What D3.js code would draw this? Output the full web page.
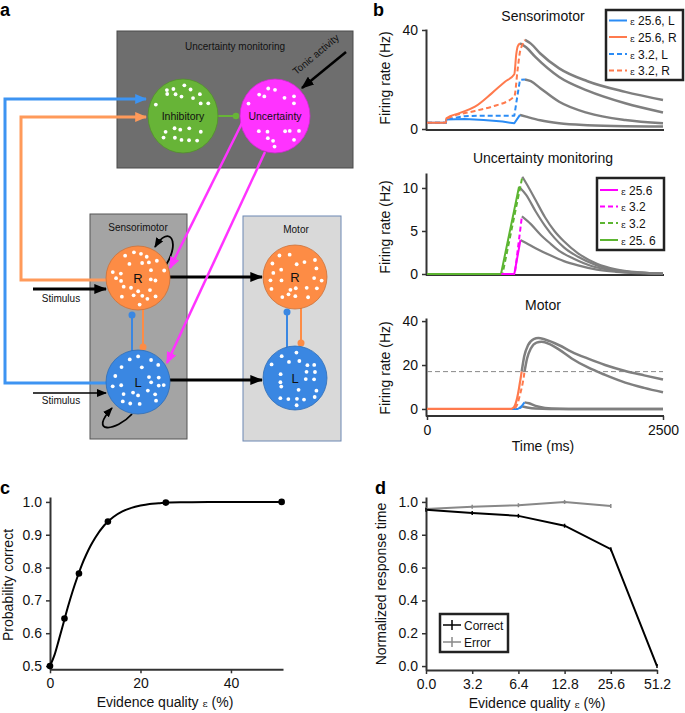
<!DOCTYPE html>
<html><head><meta charset="utf-8">
<script src="https://cdn.jsdelivr.net/npm/d3@7"></script>
<style>body{margin:0;background:#fff}svg{display:block;font-family:"Liberation Sans",Arial,sans-serif}</style>
</head><body><svg id="fig" width="685" height="713"></svg>
<script>
// ---------------- DATA ----------------
// panel b: time axis
const timeTicks = [0, 2500];
const smTicks = [0, 40];
const umTicks = [0, 5, 10];
const moTicks = [0, 20, 40];
const motorThreshold = 17;
// Sensorimotor firing rates [time ms, Hz]
const sm25L = [[0,2.5],[200,2.5],[205,3.8],[400,4.0],[600,3.6],[800,3.0],[925,2.3],[985,5.7]];
const sm25R = [[0,2.5],[200,2.5],[205,4.3],[350,6.5],[508,9.0],[685,14.4],[826,19.1],[925,22.1],[945,30],[960,33.3],[985,34.6]];
const sm32L = [[0,2.5],[200,2.5],[205,3.9],[400,5.2],[600,5.4],[925,5.4],[960,14],[985,19.8],[1038,20]];
const sm32R = [[0,2.5],[200,2.5],[205,4.0],[508,7.3],[685,9.0],[925,13.1],[960,24],[985,31.2],[1010,34],[1038,36]];
const smTail25L = [[985,5.7],[1050,5.0],[1200,3.5],[1400,2.3],[1700,1.5],[2100,1.1],[2500,1.0]];
const smTail25R = [[985,34.6],[1050,33],[1150,29],[1400,21],[1700,15.5],[2100,10.4],[2500,6.7]];
const smTail32L = [[1038,20],[1100,19.3],[1200,16.5],[1400,11],[1700,6.5],[2100,3.6],[2500,2.3]];
const smTail32R = [[1038,36],[1100,34.5],[1200,30.5],[1400,24.5],[1700,19.3],[2100,15],[2500,11.7]];
// Uncertainty monitoring
const um25M = [[790,0],[925,0],[990,3.95]];
const um32M = [[790,0],[930,0],[1005,6.7]];
const um32G = [[0,0],[800,0],[1010,11.3]];
const um25G = [[0,0],[784,0],[975,10.15]];
const umTail25M = [[990,3.95],[1050,3.6],[1150,3.0],[1300,2.2],[1450,1.5],[1600,1.0],[1800,0.5],[2000,0.25],[2250,0.1],[2500,0.03]];
const umTail32M = [[1005,6.7],[1100,5.8],[1200,4.6],[1300,3.6],[1400,2.7],[1550,1.8],[1750,0.9],[2000,0.4],[2250,0.15],[2500,0.05]];
const umTail32G = [[1010,11.3],[1080,10.0],[1150,8.6],[1250,6.6],[1350,5.0],[1450,3.8],[1600,2.4],[1800,1.2],[2000,0.55],[2250,0.2],[2500,0.06]];
const umTail25G = [[975,10.15],[1050,9.2],[1150,7.3],[1250,5.6],[1350,4.2],[1450,3.1],[1600,2.0],[1800,1.0],[2000,0.45],[2250,0.15],[2500,0.05]];
// Motor
const mo25R = [[0,0],[880,0],[910,0.4],[935,2],[955,5],[975,9.5],[990,13.5],[1003,17]];
const mo32R = [[0,0],[900,0],[935,0.5],[960,2.5],[985,6.5],[1010,11],[1025,14.5],[1033,17]];
const mo25L = [[900,0],[960,0],[1000,1.2],[1033,3]];
const mo32L = [[900,0],[940,0],[985,0.4],[1003,1.2]];
const moTail25R = [[1003,17],[1030,24],[1070,29],[1130,31.8],[1180,32.3],[1250,31.6],[1400,29],[1533,26],[1700,23],[1886,20],[2100,17.3],[2300,15.3],[2500,13.4]];
const moTail32R = [[1033,17],[1060,23],[1100,27.5],[1160,30.2],[1215,30.6],[1300,29.5],[1400,27],[1533,23],[1700,19],[1886,15.5],[2100,12],[2300,9.6],[2500,7.6]];
const moTail25L = [[1033,3],[1080,2.6],[1150,1.4],[1250,0.5],[1400,0.1],[1600,0],[2500,0]];
const moTail32L = [[1003,1.2],[1060,0.7],[1150,0.2],[1300,0],[2500,0]];

// panel c
const evidence = [0, 3.2, 6.4, 12.8, 25.6, 51.2];
const pCorrect = [0.5, 0.645, 0.782, 0.94, 0.998, 1.0];
const fitX = [0,1,2,3,4,5,6,7,8,9,10,12,14,16,18,20,22,24,26,30,35,51.2];
const fitY = [0.5,0.534,0.582,0.632,0.682,0.728,0.769,0.807,0.839,0.867,0.891,0.929,0.954,0.971,0.982,0.989,0.994,0.996,0.998,0.999,1.0,1.0];
const cXTicks = [0, 20, 40];
const cYTicks = [0.5, 0.6, 0.7, 0.8, 0.9, 1.0];

// panel d
const dCats = ["0.0", "3.2", "6.4", "12.8", "25.6", "51.2"];
const rtCorrect = [0.952, 0.933, 0.915, 0.855, 0.712, 0.0];
const rtError = [0.957, 0.970, 0.980, 1.0, 0.975];
const dYTicks = [0, 0.2, 0.4, 0.6, 0.8, 1.0];

// ---------------- STYLE ----------------
const C = {
  blue: "#2b8cf5", orange: "#ff7a4d", magenta: "#ff00ff", green: "#5cb531", gray: "#7f7f7f",
  aOrange: "#fd8c45", aBlue: "#3a87e2", aGreen: "#67b437", aMag: "#ff33ff",
  lineBlue: "#3d94f2", lineOrange: "#ff9a5a"
};
const svg = d3.select("#fig");
svg.append("rect").attr("width", 685).attr("height", 713).attr("fill", "#fff");
const defs = svg.append("defs");
function marker(id, color, w, h) {
  defs.append("marker").attr("id", id).attr("viewBox", "0 0 10 10").attr("refX", 9).attr("refY", 5)
    .attr("markerWidth", w).attr("markerHeight", h).attr("markerUnits", "userSpaceOnUse")
    .attr("preserveAspectRatio", "none").attr("orient", "auto")
    .append("path").attr("d", "M0,0L10,5L0,10z").attr("fill", color);
}
marker("arBlack", "#000", 13, 10);
marker("arBlackS", "#000", 10, 8);
marker("arBlue", C.lineBlue, 12, 10);
marker("arOrange", C.lineOrange, 12, 10);
marker("arMag", C.aMag, 12, 10);

function text(g, x, y, s, size, opts = {}) {
  return g.append("text").attr("x", x).attr("y", y).attr("font-size", size)
    .attr("text-anchor", opts.anchor || "middle").attr("fill", opts.fill || "#111")
    .attr("font-weight", opts.weight || null).text(s);
}

// ---------------- PANEL A ----------------
const A = svg.append("g");
text(A, 0, 16, "a", 18, { anchor: "start", weight: "bold", fill: "#000" });

// decorative white dots: jittered grid inside each neuron disc (not data)
function hash(a, b) { const s = Math.sin(a * 12.9898 + b * 78.233) * 43758.5453; return s - Math.floor(s); }
function dots(cx, cy, rx, ry, band) {
  const pts = [], step = 8.6;
  for (let gy = -ry; gy <= ry; gy += step) {
    for (let gx = -rx; gx <= rx; gx += step) {
      const dx = gx + (hash(gx + cx, gy + cy) - 0.5) * 5;
      const dy = gy + (hash(gy + cy, gx - cx) - 0.5) * 5;
      const nr = Math.hypot(dx / rx, dy / ry);
      if (nr > 0.86) continue;
      if (band && Math.abs(dy) < 0.3 * ry) continue;
      if (!band && Math.abs(dx) < 0.3 * rx && Math.abs(dy) < 0.3 * ry) continue;
      if (hash(dx * 3 + cx, dy * 7 + cy) < 0.12) continue;
      pts.push([cx + dx, cy + dy]);
    }
  }
  return pts;
}
function neuron(cx, cy, rx, ry, fill, label, size, band) {
  A.append("ellipse").attr("cx", cx).attr("cy", cy).attr("rx", rx).attr("ry", ry)
    .attr("fill", fill).attr("stroke", d3.color(fill).darker(0.6)).attr("stroke-width", 0.8);
  A.selectAll(null).data(dots(cx, cy, rx, ry, band)).join("circle")
    .attr("cx", d => d[0]).attr("cy", d => d[1]).attr("r", 1.9).attr("fill", "#fff");
  text(A, cx, cy + size * 0.36, label, size);
}

// boxes
A.append("rect").attr("x", 117).attr("y", 31).attr("width", 236).attr("height", 137)
  .attr("fill", "#6e6e6e").attr("stroke", "#4a4a4a").attr("stroke-width", 1);
text(A, 235, 50, "Uncertainty monitoring", 10);
A.append("rect").attr("x", 90).attr("y", 214).attr("width", 97).attr("height", 225)
  .attr("fill", "#a4a4a4").attr("stroke", "#555").attr("stroke-width", 1);
text(A, 138, 231, "Sensorimotor", 10);
A.append("rect").attr("x", 243).attr("y", 216).attr("width", 98).attr("height", 225)
  .attr("fill", "#d9d9d9").attr("stroke", "#6d88b3").attr("stroke-width", 1);
text(A, 296, 233, "Motor", 10);

// feedback lines from sensorimotor to inhibitory
A.append("path").attr("d", "M107,383 H5 V99 H146").attr("fill", "none")
  .attr("stroke", C.lineBlue).attr("stroke-width", 3).attr("marker-end", "url(#arBlue)");
A.append("path").attr("d", "M107,280 H21 V117 H146").attr("fill", "none")
  .attr("stroke", C.lineOrange).attr("stroke-width", 3).attr("marker-end", "url(#arOrange)");

// inhibitory -> uncertainty
A.append("line").attr("x1", 218).attr("y1", 116).attr("x2", 236).attr("y2", 116)
  .attr("stroke", C.aGreen).attr("stroke-width", 2);
A.append("circle").attr("cx", 236).attr("cy", 116).attr("r", 3.3).attr("fill", C.aGreen);

// tonic activity
A.append("line").attr("x1", 346).attr("y1", 52).attr("x2", 302).attr("y2", 88)
  .attr("stroke", "#000").attr("stroke-width", 2.5).attr("marker-end", "url(#arBlack)");
A.append("text").attr("transform", "translate(318,57) rotate(-40)").attr("text-anchor", "middle")
  .attr("font-size", 10).attr("fill", "#111").text("Tonic activity");

// stimulus arrows
A.append("line").attr("x1", 33).attr("y1", 289).attr("x2", 106).attr("y2", 289)
  .attr("stroke", "#000").attr("stroke-width", 3).attr("marker-end", "url(#arBlack)");
text(A, 61, 301.5, "Stimulus", 10);
A.append("line").attr("x1", 33).attr("y1", 393).attr("x2", 106).attr("y2", 393)
  .attr("stroke", "#000").attr("stroke-width", 1.5).attr("marker-end", "url(#arBlackS)");
text(A, 61, 403.5, "Stimulus", 10);

// sensorimotor -> motor
A.append("line").attr("x1", 170).attr("y1", 277).attr("x2", 262).attr("y2", 277)
  .attr("stroke", "#000").attr("stroke-width", 3).attr("marker-end", "url(#arBlack)");
A.append("line").attr("x1", 170).attr("y1", 380).attr("x2", 262).attr("y2", 380)
  .attr("stroke", "#000").attr("stroke-width", 3).attr("marker-end", "url(#arBlack)");

// mutual inhibition connectors
function connector(x, y1, y2, color) {
  A.append("line").attr("x1", x).attr("y1", y1).attr("x2", x).attr("y2", y2)
    .attr("stroke", color).attr("stroke-width", 2);
  A.append("circle").attr("cx", x).attr("cy", y2).attr("r", 3.5).attr("fill", color);
}
connector(132, 352, 315, C.aBlue);
connector(143, 305, 347, C.aOrange);
connector(287, 348, 312, C.aBlue);
connector(301, 305, 343, C.aOrange);

// self loops
A.append("path").attr("d", "M166,265 C181,241 169,224 155,247").attr("fill", "none")
  .attr("stroke", "#000").attr("stroke-width", 1.8).attr("marker-end", "url(#arBlackS)");
A.append("path").attr("d", "M132,414 C116,432 88,434 112,408").attr("fill", "none")
  .attr("stroke", "#000").attr("stroke-width", 1.8).attr("marker-end", "url(#arBlackS)");

// neurons
neuron(183, 116, 35, 37, C.aGreen, "Inhibitory", 10.5, true);
neuron(275, 116, 35, 37, C.aMag, "Uncertainty", 10.5, true);
neuron(138, 278, 32, 32, C.aOrange, "R", 13, false);
neuron(138, 382, 32, 32, C.aBlue, "L", 13, false);
neuron(295, 277, 32, 32, C.aOrange, "R", 13, false);
neuron(295, 378, 32, 32, C.aBlue, "L", 13, false);

// uncertainty -> sensorimotor
A.append("line").attr("x1", 242).attr("y1", 123).attr("x2", 170).attr("y2", 268)
  .attr("stroke", C.aMag).attr("stroke-width", 2.5).attr("marker-end", "url(#arMag)");
A.append("line").attr("x1", 265).attr("y1", 152).attr("x2", 167).attr("y2", 363)
  .attr("stroke", C.aMag).attr("stroke-width", 2.5).attr("marker-end", "url(#arMag)");

// ---------------- PANEL B ----------------
const B = svg.append("g");
text(B, 373, 16, "b", 18, { anchor: "start", weight: "bold", fill: "#000" });
const xT = d3.scaleLinear().domain([0, 2500]).range([427, 663]);

function styleAxis(g) {
  g.select(".domain").attr("stroke", "#333").attr("stroke-width", 2);
  g.selectAll(".tick line").attr("stroke", "#333").attr("stroke-width", 1.5);
  g.selectAll(".tick text").attr("font-size", 14).attr("fill", "#111")
    .attr("font-family", '"Liberation Sans",Arial,sans-serif');
}
function subplot(yScale, yTicks, title, titleY, labelY, xAxisY, showX) {
  const g = B.append("g");
  g.append("g").attr("transform", "translate(426,0)")
    .call(d3.axisLeft(yScale).tickValues(yTicks).tickSize(4).tickPadding(4).tickSizeOuter(0))
    .call(styleAxis);
  const xa = d3.axisBottom(xT).tickSizeOuter(0);
  if (showX) xa.tickValues(timeTicks).tickSize(4).tickPadding(5).tickFormat(d3.format("d"));
  else xa.tickValues([]);
  g.append("g").attr("transform", `translate(0,${xAxisY})`).call(xa).call(styleAxis)
    .select(".domain").attr("d", `M426,0H664`);
  text(g, 543, titleY, title, 14);
  g.append("text").attr("transform", `translate(390,${labelY}) rotate(-90)`)
    .attr("text-anchor", "middle").attr("font-size", 14).attr("fill", "#111").text("Firing rate (Hz)");
  return g;
}
function series(g, data, y, color, dashed, width, curve) {
  g.append("path").datum(data)
    .attr("d", d3.line().x(d => xT(d[0])).y(d => y(d[1])).curve(curve || d3.curveMonotoneX))
    .attr("fill", "none").attr("stroke", color).attr("stroke-width", width || 2)
    .attr("stroke-dasharray", dashed ? "5,3" : null).attr("stroke-linejoin", "round");
}
function legend(g, x, y, w, h, items, rowY) {
  g.append("rect").attr("x", x).attr("y", y).attr("width", w).attr("height", h)
    .attr("fill", "#fff").attr("stroke", "#222").attr("stroke-width", 2.5);
  items.forEach((it, i) => {
    const yy = rowY[i];
    g.append("line").attr("x1", x + 3).attr("x2", x + 21).attr("y1", yy).attr("y2", yy)
      .attr("stroke", it.color).attr("stroke-width", 2).attr("stroke-dasharray", it.dashed ? "5,3" : null);
    const t = g.append("text").attr("x", x + 24).attr("y", yy + 4.5).attr("font-size", 12).attr("fill", "#111");
    t.append("tspan").attr("font-size", 9).attr("font-family", '"DejaVu Serif",serif').text("ε");
    t.append("tspan").text(" " + it.label);
  });
}

// Sensorimotor
const ySM = d3.scaleLinear().domain([-0.4, 40.4]).range([130, 29]);
const gSM = subplot(ySM, smTicks, "Sensorimotor", 21, 78, 130, false);
[smTail25L, smTail25R, smTail32L, smTail32R].forEach(d => series(gSM, d, ySM, C.gray, false, 2.5));
series(gSM, sm25L, ySM, C.blue, false, 2, d3.curveLinear);
series(gSM, sm25R, ySM, C.orange, false, 2);
series(gSM, sm32L, ySM, C.blue, true, 2, d3.curveLinear);
series(gSM, sm32R, ySM, C.orange, true, 2);
legend(gSM, 606, 10, 77, 70, [
  { color: C.blue, dashed: false, label: "25.6, L" },
  { color: C.orange, dashed: false, label: "25.6, R" },
  { color: C.blue, dashed: true, label: "3.2, L" },
  { color: C.orange, dashed: true, label: "3.2, R" }], [20.5, 37, 54, 70.5]);

// Uncertainty monitoring
const yUM = d3.scaleLinear().domain([-0.116, 11.74]).range([275, 173]);
const gUM = subplot(yUM, umTicks, "Uncertainty monitoring", 163, 227, 275, false);
[umTail25M, umTail32M, umTail32G, umTail25G].forEach(d => series(gUM, d, yUM, C.gray, false, 2.2));
series(gUM, um32G, yUM, C.green, true, 2, d3.curveLinear);
series(gUM, um25G, yUM, C.green, false, 2, d3.curveLinear);
series(gUM, um25M, yUM, C.magenta, false, 2, d3.curveLinear);
series(gUM, um32M, yUM, C.magenta, true, 2, d3.curveLinear);
legend(gUM, 597, 178, 67, 72, [
  { color: C.magenta, dashed: false, label: "25.6" },
  { color: C.magenta, dashed: true, label: "3.2" },
  { color: C.green, dashed: true, label: "3.2" },
  { color: C.green, dashed: false, label: "25. 6" }], [190, 206.5, 223, 240]);

// Motor
const yMO = d3.scaleLinear().domain([-3.2, 41.4]).range([416, 318]);
const gMO = subplot(yMO, moTicks, "Motor", 310, 368, 416, true);
text(gMO, 543, 451, "Time (ms)", 14);
gMO.append("line").datum(motorThreshold)
  .attr("x1", xT(0)).attr("x2", xT(2500)).attr("y1", d => yMO(d)).attr("y2", d => yMO(d))
  .attr("stroke", "#888").attr("stroke-width", 1).attr("stroke-dasharray", "5,3");
[moTail25L, moTail32L, moTail32R, moTail25R].forEach(d => series(gMO, d, yMO, C.gray, false, 2.5));
series(gMO, mo25L, yMO, C.blue, false, 2);
series(gMO, mo32L, yMO, C.blue, true, 2);
series(gMO, mo25R, yMO, C.orange, false, 2.2);
series(gMO, mo32R, yMO, C.orange, true, 2);

// ---------------- PANEL C ----------------
const G3 = svg.append("g");
text(G3, 0, 494, "c", 18, { anchor: "start", weight: "bold", fill: "#000" });
const xc = d3.scaleLinear().domain([0, 51.5]).range([50, 283]);
const yc = d3.scaleLinear().domain([0.49, 1.015]).range([669.3, 497]);
G3.append("g").attr("transform", "translate(50,0)")
  .call(d3.axisLeft(yc).tickValues(cYTicks).tickFormat(d3.format(".1f")).tickSize(4).tickPadding(4).tickSizeOuter(0))
  .call(styleAxis);
G3.append("g").attr("transform", "translate(0,669.3)")
  .call(d3.axisBottom(xc).tickValues(cXTicks).tickSize(4).tickPadding(5).tickSizeOuter(0))
  .call(styleAxis);
G3.append("path").datum(fitX.map((x, i) => [x, fitY[i]]))
  .attr("d", d3.line().x(d => xc(d[0])).y(d => yc(d[1])).curve(d3.curveMonotoneX))
  .attr("fill", "none").attr("stroke", "#000").attr("stroke-width", 2);
G3.selectAll(null).data(evidence.map((x, i) => [x, pCorrect[i]])).join("circle")
  .attr("cx", d => xc(d[0])).attr("cy", d => yc(d[1])).attr("r", 3.3).attr("fill", "#000");
G3.append("text").attr("transform", "translate(13,585) rotate(-90)").attr("text-anchor", "middle")
  .attr("font-size", 14).attr("fill", "#111").text("Probability correct");
const cx1 = G3.append("text").attr("x", 165).attr("y", 707).attr("text-anchor", "middle").attr("font-size", 14).attr("fill", "#111");
cx1.append("tspan").text("Evidence quality ");
cx1.append("tspan").attr("font-size", 10).attr("font-family", '"DejaVu Serif",serif').text("ε");
cx1.append("tspan").text(" (%)");

// ---------------- PANEL D ----------------
const G4 = svg.append("g");
text(G4, 375, 494, "d", 18, { anchor: "start", weight: "bold", fill: "#000" });
const xd = d3.scalePoint().domain(dCats).range([426, 657]);
const yd = d3.scaleLinear().domain([-0.024, 1.03]).range([670, 497]);
G4.append("g").attr("transform", "translate(426,0)")
  .call(d3.axisLeft(yd).tickValues(dYTicks).tickFormat(d3.format(".1f")).tickSize(4).tickPadding(4).tickSizeOuter(0))
  .call(styleAxis);
G4.append("g").attr("transform", "translate(0,670)")
  .call(d3.axisBottom(xd).tickSize(4).tickPadding(5).tickSizeOuter(0))
  .call(styleAxis);
const dLine = d3.line().x(d => xd(d[0])).y(d => yd(d[1]));
G4.append("path").datum(rtError.map((v, i) => [dCats[i], v])).attr("d", dLine)
  .attr("fill", "none").attr("stroke", "#888").attr("stroke-width", 2);
G4.append("path").datum(rtCorrect.map((v, i) => [dCats[i], v])).attr("d", dLine)
  .attr("fill", "none").attr("stroke", "#000").attr("stroke-width", 2);
G4.selectAll(null).data(rtError.map((v, i) => [dCats[i], v])).join("line")
  .attr("x1", d => xd(d[0])).attr("x2", d => xd(d[0])).attr("y1", d => yd(d[1]) - 2).attr("y2", d => yd(d[1]) + 2)
  .attr("stroke", "#888").attr("stroke-width", 1.5);
G4.selectAll(null).data(rtCorrect.map((v, i) => [dCats[i], v])).join("line")
  .attr("x1", d => xd(d[0])).attr("x2", d => xd(d[0])).attr("y1", d => yd(d[1]) - 2).attr("y2", d => yd(d[1]) + 2)
  .attr("stroke", "#000").attr("stroke-width", 1.5);
G4.append("text").attr("transform", "translate(386,584) rotate(-90)").attr("text-anchor", "middle")
  .attr("font-size", 14).attr("fill", "#111").text("Normalized response time");
const dx1 = G4.append("text").attr("x", 537).attr("y", 708).attr("text-anchor", "middle").attr("font-size", 14).attr("fill", "#111");
dx1.append("tspan").text("Evidence quality ");
dx1.append("tspan").attr("font-size", 10).attr("font-family", '"DejaVu Serif",serif').text("ε");
dx1.append("tspan").text(" (%)");
// legend d
G4.append("rect").attr("x", 440).attr("y", 614).attr("width", 68).attr("height", 38)
  .attr("fill", "#fff").attr("stroke", "#222").attr("stroke-width", 2.5);
[{ label: "Correct", color: "#000", y: 625 }, { label: "Error", color: "#888", y: 642 }].forEach(it => {
  G4.append("line").attr("x1", 443).attr("x2", 461).attr("y1", it.y).attr("y2", it.y).attr("stroke", it.color).attr("stroke-width", 1.5);
  G4.append("line").attr("x1", 452).attr("x2", 452).attr("y1", it.y - 5).attr("y2", it.y + 5).attr("stroke", it.color).attr("stroke-width", 1.5);
  G4.append("text").attr("x", 464).attr("y", it.y + 4.5).attr("font-size", 12).attr("fill", "#111").text(it.label);
});
</script></body></html>
